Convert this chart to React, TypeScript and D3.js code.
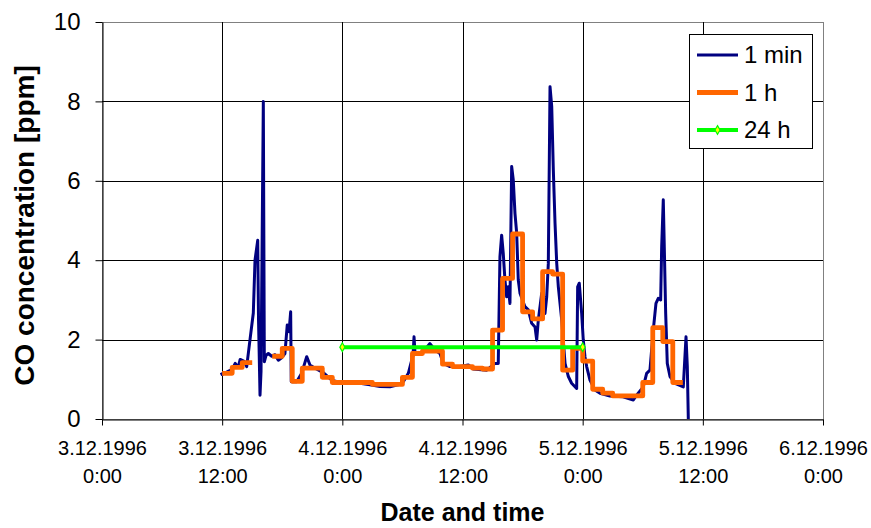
import React, { useEffect, useRef } from 'react';
import * as d3 from 'd3';

// hours after 3.12.1996 0:00
const xTickHours = [0, 12, 24, 36, 48, 60, 72];
const xTickDates = ['3.12.1996', '3.12.1996', '4.12.1996', '4.12.1996', '5.12.1996', '5.12.1996', '6.12.1996'];
const xTickTimes = ['0:00', '12:00', '0:00', '12:00', '0:00', '12:00', '0:00'];
const yTicks = [0, 2, 4, 6, 8, 10];

// 1 min series
const minuteHours = [
    11.9, 12.0, 12.6, 13.0, 13.3, 13.6, 13.8, 14.2, 14.45, 14.78, 15.11, 15.28, 15.55, 15.63, 15.78, 15.88,
    16.11, 16.21, 16.38, 16.61, 16.95, 17.28, 17.61, 17.97, 18.27, 18.5, 18.68, 18.84, 18.9, 19.44, 19.94,
    20.44, 20.77, 21.27, 22.1, 22.94, 24.07, 24.77, 25.76, 26.76, 27.76, 28.76, 29.56, 30.09, 30.59, 30.93,
    31.06, 31.16, 31.26, 31.76, 32.26, 32.75, 33.25, 33.75, 34.08, 34.75, 35.75, 36.58, 37.05, 38.42, 39.24,
    39.57, 39.74, 39.91, 40.07, 40.24, 40.41, 40.57, 40.74, 40.91, 41.07, 41.24, 41.41, 41.57, 41.74, 42.24,
    42.57, 42.91, 43.24, 43.41, 43.57, 43.91, 44.24, 44.41, 44.57, 44.74, 44.91, 45.07, 45.24, 45.41, 45.57,
    45.91, 46.24, 46.57, 46.9, 47.4, 47.5, 47.66, 47.9, 48.06, 48.23, 48.4, 48.73, 49.23, 49.73, 50.73,
    52.03, 53.06, 53.39, 54.05, 54.39, 54.72, 55.05, 55.32, 55.55, 55.79, 55.89, 56.05, 56.15, 56.29, 56.45,
    56.72, 57.22, 58.05, 58.32, 58.45, 58.55
];
const minuteValues = [
    1.17, 1.12, 1.2, 1.25, 1.4, 1.3, 1.5, 1.45, 1.32, 2.0, 2.67, 4.0, 4.5, 2.5, 0.6, 1.2,
    8.0, 1.44, 1.6, 1.65, 1.58, 1.62, 1.48, 1.55, 1.65, 2.37, 2.2, 2.7, 0.94, 0.94, 1.15,
    1.57, 1.36, 1.28, 1.17, 0.98, 0.9, 0.9, 0.9, 0.86, 0.82, 0.81, 0.86, 0.94, 1.15, 1.48,
    1.6, 2.07, 1.65, 1.65, 1.75, 1.9, 1.74, 1.65, 1.4, 1.32, 1.32, 1.36, 1.26, 1.23, 1.4,
    1.4, 4.09, 4.63, 4.17, 3.5, 3.08, 3.33, 2.91, 6.36, 6.02, 5.18, 4.68, 3.5, 3.17, 2.83,
    2.75, 2.41, 2.32, 1.99, 2.49, 3.17, 2.66, 3.08, 3.92, 8.37, 7.87, 6.27, 4.93, 3.92, 3.33,
    2.49, 1.4, 1.07, 0.9, 0.77, 3.33, 3.42, 2.66, 1.99, 1.57, 1.32, 0.98, 0.73, 0.65, 0.58,
    0.56, 0.48, 0.6, 0.81, 1.15, 1.23, 2.24, 2.91, 3.04, 3.0, 4.34, 5.52, 4.34, 2.66, 1.4,
    1.07, 0.9, 0.81, 2.07, 1.32, 0.0
];

// 1 h means, first one is the hour starting 3.12.1996 12:00
const hourlyStart = 12;
const hourlyValues = [
    1.15, 1.3, 1.42, null, null, 1.58, 1.78, 0.95, 1.28, 1.28, 1.05, 0.92,
    0.92, 0.92, 0.92, 0.87, 0.87, 0.87, 1.05, 1.65, 1.71, 1.71, 1.38, 1.32,
    1.32, 1.28, 1.26, 2.24, 3.54, 4.66, 2.70, 2.52, 3.71, 3.65, 1.23, 1.78,
    1.46, 0.75, 0.65, 0.58, 0.58, 0.58, 0.92, 2.30, 1.95, 0.92
];

// 24 h mean
const dailyHours = [24, 48];
const dailyValues = [1.81, 1.81];

const seriesNames = ['1 min', '1 h', '24 h'];
const seriesColors = ['#000080', '#FF6600', '#00FF00'];

export default function App() {
    const ref = useRef(null);

    useEffect(() => {
        const width = 871, height = 528,
            margin = { top: 22, right: 48, bottom: 109, left: 102 },
            x = d3.scaleLinear().domain([0, 72]).range([margin.left, width - margin.right]),
            y = d3.scaleLinear().domain([0, 10]).range([height - margin.bottom, margin.top]);

        const svg = d3.select(ref.current);
        svg.selectAll('*').remove();
        svg.attr('font-family', 'Arial, "Liberation Sans", sans-serif');

        // plot frame + grid
        svg.append('rect')
            .attr('x', x(0) + 0.5).attr('y', y(10) + 0.5)
            .attr('width', x(72) - x(0)).attr('height', y(0) - y(10))
            .attr('fill', 'white').attr('stroke', '#808080');

        svg.append('g').selectAll('line')
            .data(yTicks.filter(t => t > 0 && t < 10))
            .enter().append('line')
            .attr('x1', x(0)).attr('x2', x(72))
            .attr('y1', d => Math.round(y(d)) + 0.5).attr('y2', d => Math.round(y(d)) + 0.5)
            .attr('stroke', '#000');

        svg.append('g').selectAll('line')
            .data(xTickHours.filter(t => t > 0 && t < 72))
            .enter().append('line')
            .attr('x1', d => Math.round(x(d)) + 0.5).attr('x2', d => Math.round(x(d)) + 0.5)
            .attr('y1', y(10)).attr('y2', y(0))
            .attr('stroke', '#000');

        // axes
        const yAxis = svg.append('g')
            .attr('transform', `translate(${x(0) + 0.5},0)`)
            .call(d3.axisLeft(y).tickValues(yTicks).tickSize(7).tickPadding(15).tickSizeOuter(0));
        yAxis.selectAll('text').attr('font-size', 24).attr('fill', '#000').attr('font-family', 'Arial, "Liberation Sans", sans-serif');

        const xAxis = svg.append('g')
            .attr('transform', `translate(0,${y(0) + 0.5})`)
            .call(d3.axisBottom(x).tickValues(xTickHours).tickSize(6).tickSizeOuter(0).tickFormat(() => ''));
        xAxis.selectAll('.tick text').remove();
        xAxis.selectAll('.tick').each(function (d, i) {
            const t = d3.select(this).append('text')
                .attr('fill', '#000')
                .attr('font-size', 20)
                .attr('font-family', 'Arial, "Liberation Sans", sans-serif')
                .attr('text-anchor', 'middle');
            t.append('tspan').attr('x', 0).attr('y', 35).text(xTickDates[i]);
            t.append('tspan').attr('x', 0).attr('y', 63).text(xTickTimes[i]);
        });

        // titles
        svg.append('text')
            .attr('x', (x(0) + x(72)) / 2).attr('y', 521)
            .attr('text-anchor', 'middle').attr('font-weight', 'bold').attr('font-size', 25)
            .text('Date and time');
        svg.append('text')
            .attr('transform', `translate(34,${(y(0) + y(10)) / 2 + 5}) rotate(-90)`)
            .attr('text-anchor', 'middle').attr('font-weight', 'bold').attr('font-size', 28)
            .text('CO concentration [ppm]');

        // 1 min
        const minute = minuteHours.map((h, i) => [h, minuteValues[i]]);
        svg.append('path')
            .attr('d', d3.line().x(d => x(d[0])).y(d => y(d[1]))(minute))
            .attr('fill', 'none').attr('stroke', seriesColors[0])
            .attr('stroke-width', 3).attr('stroke-linejoin', 'round');

        // 1 h as steps
        const hourly = hourlyValues.flatMap((v, i) => {
            const h = hourlyStart + i;
            return v == null ? [[h, null]] : [[h, v], [h + 1, v]];
        });
        svg.append('path')
            .attr('d', d3.line().defined(d => d[1] != null).x(d => x(d[0])).y(d => y(d[1]))(hourly))
            .attr('fill', 'none').attr('stroke', seriesColors[1])
            .attr('stroke-width', 4.8).attr('stroke-linejoin', 'round');

        // 24 h
        const daily = dailyHours.map((h, i) => [h, dailyValues[i]]);
        svg.append('path')
            .attr('d', d3.line().x(d => x(d[0])).y(d => y(d[1]))(daily))
            .attr('fill', 'none').attr('stroke', seriesColors[2]).attr('stroke-width', 4);
        svg.append('g').selectAll('path')
            .data(daily)
            .enter().append('path')
            .attr('transform', d => `translate(${x(d[0])},${y(d[1])})`)
            .attr('d', d3.symbol(d3.symbolDiamond, 22))
            .attr('fill', '#FFFF00').attr('stroke', seriesColors[2]).attr('stroke-width', 1.2);

        // legend
        const lg = svg.append('g').attr('transform', 'translate(689,34)');
        lg.append('rect').attr('x', 0.5).attr('y', 0.5).attr('width', 123).attr('height', 114)
            .attr('fill', 'white').attr('stroke', '#000');
        const item = lg.selectAll('g.item')
            .data(seriesNames)
            .enter().append('g')
            .attr('transform', (d, i) => `translate(0,${21 + i * 37.5})`);
        item.append('line')
            .attr('x1', 8).attr('x2', 49).attr('y1', 0).attr('y2', 0)
            .attr('stroke', (d, i) => seriesColors[i])
            .attr('stroke-width', (d, i) => [3, 4.8, 4][i]);
        item.filter((d, i) => i === 2).append('path')
            .attr('transform', 'translate(28.5,0)')
            .attr('d', d3.symbol(d3.symbolDiamond, 22))
            .attr('fill', '#FFFF00').attr('stroke', seriesColors[2]).attr('stroke-width', 1.2);
        item.append('text')
            .attr('x', 55).attr('dy', '0.35em')
            .attr('font-size', 24)
            .text(d => d);
    }, []);

    return (
        <div style={{ position: 'absolute', left: 0, top: 0 }}>
            <svg ref={ref} width={871} height={528} style={{ display: 'block', background: 'white' }} />
        </div>
    );
}
